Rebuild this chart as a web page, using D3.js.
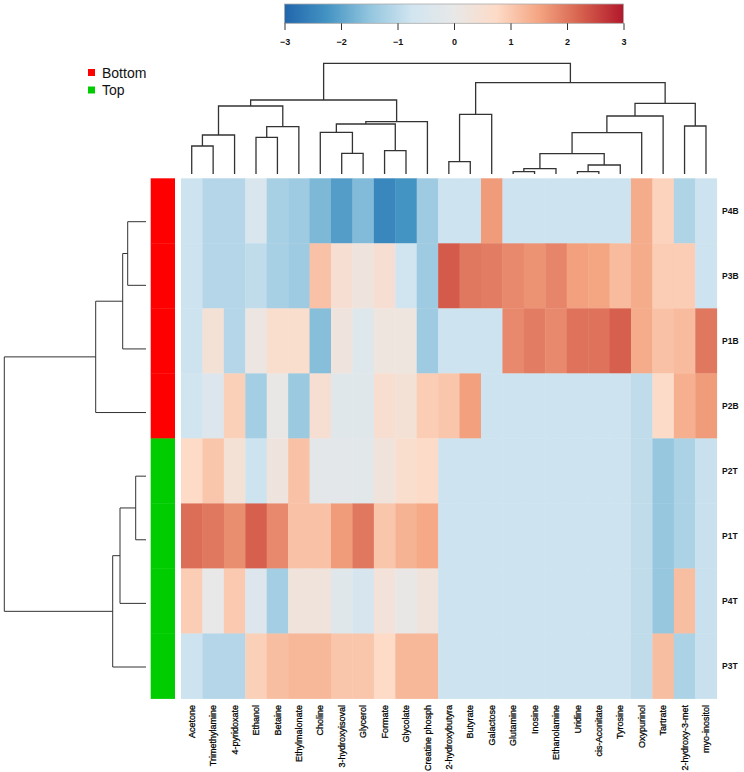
<!DOCTYPE html>
<html>
<head>
<meta charset="utf-8">
<script src="https://cdn.jsdelivr.net/npm/d3@7"></script>
<style>
  body { margin: 0; background: #fff; }
  text { font-family: "Liberation Sans", Arial, sans-serif; fill: #111; }
</style>
</head>
<body>
<div id="chart"></div>
<script>
// columns, in dendrogram order
const metabolites = [
  "Acetone", "Trimethylamine", "4-pyridoxate", "Ethanol", "Betaine",
  "Ethylmalonate", "Choline", "3-hydroxyisoval", "Glycerol", "Formate",
  "Glycolate", "Creatine phosph", "2-hydroxybutyra", "Butyrate", "Galactose",
  "Glutamine", "Inosine", "Ethanolamine", "Uridine", "cis-Aconitate",
  "Tyrosine", "Oxypurinol", "Tartrate", "2-hydroxy-3-met", "myo-inositol"
];
const samples = ["P4B", "P3B", "P1B", "P2B", "P2T", "P1T", "P4T", "P3T"];
const sampleGroup = ["Bottom", "Bottom", "Bottom", "Bottom", "Top", "Top", "Top", "Top"];
const groupNames = ["Bottom", "Top"];
const groupColors = ["#ff0000", "#00cd00"];

// row z-scores
const p4b = [-0.8, -1.1, -1.1, -0.45, -1.25, -1.35, -1.7, -2.1, -1.65, -2.45, -2.25, -1.35, -0.8, -0.8, 1.6, -0.8, -0.8, -0.8, -0.8, -0.8, -0.8, 1.4, 0.85, -1.15, -0.8];
const p3b = [-0.8, -1.1, -1.1, -0.95, -1.25, -1.35, 1.1, 0.5, 0.25, 0.5, -0.75, -1.35, 2.3, 2.0, 1.95, 1.8, 1.7, 1.85, 1.55, 1.5, 1.2, 1.4, 0.95, 0.95, -0.8];
const p1b = [-0.8, 0.4, -1.1, 0.15, 0.6, 0.6, -1.6, 0.25, -0.35, 0.2, 0.2, -1.35, -0.8, -0.8, -0.8, 1.8, 1.95, 1.8, 2.05, 2.05, 2.25, 1.4, 1.1, 1.2, 2.0];
const p2b = [-0.75, -0.4, 0.9, -1.3, 0.05, -1.4, 0.5, -0.25, -0.25, 0.55, 0.4, 0.95, 1.05, 1.55, -0.8, -0.8, -0.8, -0.8, -0.8, -0.8, -0.8, -0.95, 0.7, 1.35, 1.6];
const p2t = [0.75, 1.05, 0.4, -0.8, 0.25, 1.1, -0.15, -0.15, -0.2, 0.3, 0.6, 0.7, -0.8, -0.8, -0.8, -0.8, -0.8, -0.8, -0.8, -0.8, -0.8, -0.95, -1.45, -1.2, -0.85];
const p1t = [2.1, 2.0, 1.75, 2.25, 1.8, 1.1, 1.1, 1.6, 2.0, 1.05, 1.3, 1.45, -0.8, -0.8, -0.8, -0.8, -0.8, -0.8, -0.8, -0.8, -0.8, -0.95, -1.45, -1.2, -0.85];
const p4t = [0.95, 0.0, 1.0, -0.4, -1.3, 0.3, 0.3, -0.3, -0.55, 0.35, 0.05, 0.3, -0.8, -0.8, -0.8, -0.8, -0.8, -0.8, -0.8, -0.8, -0.8, -0.95, -1.45, 1.15, -0.85];
const p3t = [-0.8, -1.1, -1.1, 0.9, 1.15, 1.25, 1.25, 1.05, 1.05, 0.75, 1.25, 1.25, -0.8, -0.8, -0.8, -0.8, -0.8, -0.8, -0.8, -0.8, -0.8, -0.95, 1.15, -1.2, -0.85];
const rows = [p4b, p3b, p1b, p2b, p2t, p1t, p4t, p3t];

// hclust-style merges: negative = leaf (1-based), positive = earlier merge
const colMerge = [
  [-1, -2], [1, -3], [-4, -5], [3, -6], [2, 4],
  [-8, -9], [-7, 6], [-10, -11], [7, 8], [9, -12], [5, 10],
  [-13, -14], [12, -15], [-16, -17], [14, -18], [-19, -20], [16, -21],
  [15, 17], [18, -22], [19, -23], [-24, -25], [20, 21], [13, 22], [11, 23]
];
const colHeight = [28, 39, 36.7, 47.3, 68, 20.7, 41.7, 23.3, 50, 52.3, 74,
  12.3, 59.7, 2.3, 5.3, 2.3, 9, 20.3, 41.3, 58, 48, 70.7, 91.3, 110.7];
const rowMerge = [[-1, -2], [1, -3], [2, -4], [-5, -6], [4, -7], [5, -8], [3, 6]];
const rowHeight = [18.3, 23.3, 50.3, 10.3, 26, 33.3, 141.7];

const scaleTicks = [-3, -2, -1, 0, 1, 2, 3];
const rdbu = ["#2166ac", "#4393c3", "#92c5de", "#d1e5f0", "#e8e8e8", "#fddbc7", "#f4a582", "#d6604d", "#b2182b"];

let width = 744;
let height = 772;

let svg = d3.select("#chart")
  .append("svg")
  .attr("width", width)
  .attr("height", height);

/* Scales */
let x = d3.scaleBand().domain(metabolites).range([181, 716.7]);
let y = d3.scaleBand().domain(samples).range([178.3, 698.5]);
let color = d3.scaleLinear()
  .domain(d3.range(rdbu.length).map(i => -3 + i * 6 / (rdbu.length - 1)))
  .range(rdbu)
  .clamp(true);

/* Heatmap cells */
let cells = [];
rows.forEach((r, i) => r.forEach((v, j) => cells.push({ s: samples[i], m: metabolites[j], v: v })));

svg.append("g")
  .selectAll("rect")
  .data(cells)
  .enter()
  .append("rect")
  .attr("x", d => x(d.m))
  .attr("y", d => y(d.s))
  .attr("width", x.bandwidth() + 0.4)
  .attr("height", y.bandwidth() + 0.4)
  .attr("fill", d => color(d.v));

/* Side colour bar */
svg.append("g")
  .selectAll("rect")
  .data(samples)
  .enter()
  .append("rect")
  .attr("x", 150.7)
  .attr("y", d => y(d))
  .attr("width", 24.3)
  .attr("height", y.bandwidth() + 0.4)
  .attr("fill", (d, i) => groupColors[groupNames.indexOf(sampleGroup[i])]);

/* Dendrograms */
function buildTree(merge, heights, leafPos) {
  let nodes = [];
  merge.forEach(([a, b], k) => {
    let ca = a < 0 ? { p: leafPos(-a - 1), h: 0 } : nodes[a - 1];
    let cb = b < 0 ? { p: leafPos(-b - 1), h: 0 } : nodes[b - 1];
    nodes.push({ p: (ca.p + cb.p) / 2, h: heights[k], a: ca, b: cb });
  });
  return nodes;
}

let colTree = buildTree(colMerge, colHeight, i => x(metabolites[i]) + x.bandwidth() / 2);
let hy = d3.scaleLinear().domain([0, d3.max(colHeight)]).range([174, 63.3]);

svg.append("g")
  .selectAll("path")
  .data(colTree)
  .enter()
  .append("path")
  .attr("d", n => `M${n.a.p},${hy(n.a.h)}V${hy(n.h)}H${n.b.p}V${hy(n.b.h)}`)
  .attr("fill", "none")
  .attr("stroke", "#333")
  .attr("stroke-width", 1.3);

let leafY = d3.scalePoint().domain(samples).range([221.7, 667]);
let rowTree = buildTree(rowMerge, rowHeight, i => leafY(samples[i]));
let hx = d3.scaleLinear().domain([0, d3.max(rowHeight)]).range([146, 4.3]);

svg.append("g")
  .selectAll("path")
  .data(rowTree)
  .enter()
  .append("path")
  .attr("d", n => `M${hx(n.a.h)},${n.a.p}H${hx(n.h)}V${n.b.p}H${hx(n.b.h)}`)
  .attr("fill", "none")
  .attr("stroke", "#333")
  .attr("stroke-width", 1);

/* Labels */
svg.append("g")
  .selectAll("text")
  .data(metabolites)
  .enter()
  .append("text")
  .attr("transform", d => `translate(${x(d) + x.bandwidth() / 2},705) rotate(-90)`)
  .attr("text-anchor", "end")
  .attr("dy", "0.35em")
  .style("font-size", "9px")
  .style("fill", "#000")
  .style("stroke", "#000")
  .style("stroke-width", "0.25px")
  .text(d => d);

svg.append("g")
  .selectAll("text")
  .data(samples)
  .enter()
  .append("text")
  .attr("x", 722)
  .attr("y", d => y(d) + y.bandwidth() / 2)
  .attr("dy", "0.35em")
  .style("font-size", "8.5px")
  .style("font-weight", "bold")
  .text(d => d);

/* Legend */
const legend = svg.append("g").attr("transform", "translate(88,69)");
const lg = legend.selectAll("g")
  .data(groupNames)
  .enter()
  .append("g")
  .attr("transform", (d, i) => `translate(0,${i * 17.5})`);
lg.append("rect")
  .attr("width", 7)
  .attr("height", 7)
  .attr("fill", (d, i) => groupColors[i]);
lg.append("text")
  .attr("x", 14)
  .attr("y", 4)
  .attr("dy", "0.35em")
  .style("font-size", "14px")
  .text(d => d);

/* Colour key */
let keyX = d3.scaleLinear().domain([-3, 3]).range([284.5, 623.5]);
const defs = svg.append("defs");
const grad = defs.append("linearGradient").attr("id", "keygrad");
grad.selectAll("stop")
  .data(color.domain())
  .enter()
  .append("stop")
  .attr("offset", d => (d + 3) / 6)
  .attr("stop-color", d => color(d));

svg.append("rect")
  .attr("x", keyX(-3))
  .attr("y", 4)
  .attr("width", keyX(3) - keyX(-3))
  .attr("height", 19.3)
  .attr("fill", "url(#keygrad)")
  .attr("stroke", "#aaa")
  .attr("stroke-width", 0.8);

let keyAxis = d3.axisBottom(keyX).tickValues(scaleTicks).tickSize(6.7).tickFormat(d3.format("d"));
let ka = svg.append("g")
  .attr("transform", "translate(0,23.3)")
  .call(keyAxis);
ka.select(".domain").remove();
ka.selectAll("line").attr("stroke", "#333");
ka.selectAll("text")
  .attr("y", 15)
  .style("font-size", "9px")
  .style("font-weight", "bold")
  .style("font-family", "'Liberation Sans', Arial, sans-serif");
</script>
</body>
</html>
